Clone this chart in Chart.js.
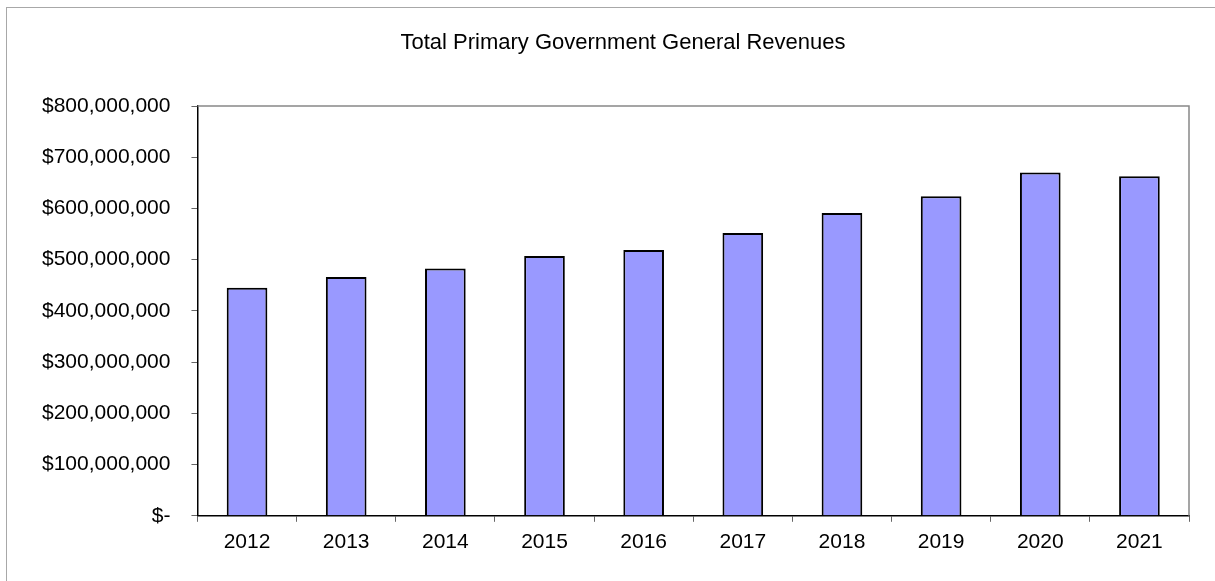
<!DOCTYPE html>
<html>
<head>
<meta charset="utf-8">
<script src="https://cdn.jsdelivr.net/npm/chart.js@4/dist/chart.umd.min.js"></script>
<style>
html,body{margin:0;padding:0;background:#fff;}
#wrap{position:relative;width:1215px;height:581px;}
#frame{position:absolute;left:6px;top:7px;right:0;bottom:0;border-left:1px solid #a8a8a8;border-top:1px solid #a8a8a8;}
canvas{position:absolute;left:0;top:0;}
</style>
</head>
<body>
<div id="wrap">
<div id="frame"></div>
<canvas id="chart" width="1215" height="581"></canvas>
</div>
<script>
// data
const years = ["2012","2013","2014","2015","2016","2017","2018","2019","2020","2021"];
const revenues = [445000000, 466000000, 483000000, 507000000, 519000000, 552000000, 591000000, 624000000, 670000000, 663000000];
const yMin = 0;
const yMax = 800000000;
const yStep = 100000000;
const titleText = "Total Primary Government General Revenues";

function money(v){
if(v === 0) return "$-";
return "$" + v.toLocaleString("en-US");
}

const fam = "'Liberation Sans', Arial, sans-serif";
const font = {family:fam, size:21};

/* ================= PLOT FRAME (top + right) + TITLE ================= */
const frameLines = {
id:"frameLines",
beforeDatasetsDraw(chart){
let a = chart.chartArea, c = chart.ctx;
c.save();
c.strokeStyle = "#888";
c.lineWidth = 1.5;
c.beginPath();
c.moveTo(a.left, a.top);
c.lineTo(a.right, a.top);
c.lineTo(a.right, a.bottom);
c.stroke();
c.restore();
},
afterDraw(chart){
let c = chart.ctx;
c.save();
c.fillStyle = "#000";
c.font = "22px " + fam;
c.textAlign = "center";
c.textBaseline = "middle";
c.fillText(titleText, 623, 43);
c.restore();
}
};

new Chart(document.getElementById("chart"), {
type:"bar",
data:{
labels: years,
datasets:[{
label:"Revenues",
data: revenues,
backgroundColor:"#9999ff",
borderColor:"#000",
borderWidth:2,
barPercentage:0.41,
categoryPercentage:1
}]
},
options:{
responsive:false,
animation:false,
layout:{padding:{left:21, right:26, top:106, bottom:18}},
plugins:{
legend:{display:false},
tooltip:{enabled:false},
title:{display:false}
},
scales:{
x:{
grid:{display:true, drawOnChartArea:false, drawTicks:true, tickLength:6, color:"#666", offset:true},
border:{display:true, color:"#000", width:1.5},
ticks:{color:"#000", font:font, padding:8, maxRotation:0}
},
y:{
min:yMin, max:yMax,
grid:{display:true, drawOnChartArea:false, drawTicks:true, tickLength:6, color:"#666"},
border:{display:true, color:"#000", width:1.5},
ticks:{stepSize:yStep, color:"#000", font:font, padding:21, callback:v=>money(v)}
}
}
},
plugins:[frameLines]
});
</script>
</body>
</html>
